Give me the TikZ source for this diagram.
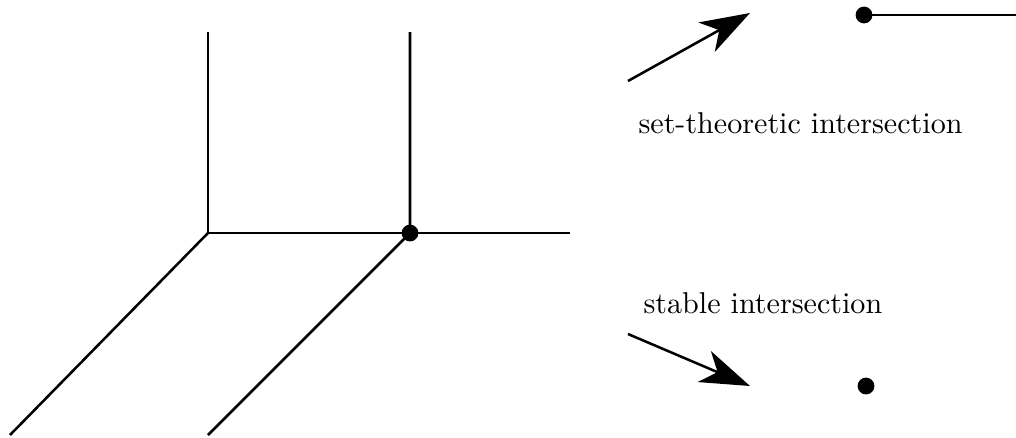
\documentclass[tikz,border=0pt]{standalone}
\usetikzlibrary{arrows.meta}

\tikzset{
  edge/.style={line width=0.9pt},
  pt/.style={circle,fill=black,inner sep=0pt,minimum size=2.1mm},
  bigarrow/.style={line width=0.9pt,-{Stealth[length=6.2mm,width=4.2mm,inset=1.8mm]}},
  lbl/.style={anchor=west,inner sep=0pt,font=\fontsize{10.7}{13}\selectfont}
}

\begin{document}
\begin{tikzpicture}[x=0.0125cm,y=-0.0125cm]
\useasboundingbox (0,0) rectangle (1016,437);

% two tropical lines
\coordinate (A) at (208,233);
\coordinate (Atop) at (208,32);
\coordinate (Aend) at (10,435);
\coordinate (Bright) at (570,233);
\coordinate (Btop) at (410,32);
\coordinate (Bend) at (208,435);
\node[pt] (B) at (410,233) {};

\draw[edge] (Atop) -- (A) -- (Bright);
\draw[edge] (A) -- (Aend);
\draw[edge] (Btop) -- (B.center) -- (Bend);

% set-theoretic intersection
\coordinate (s1) at (628,81);
\coordinate (s2) at (750,13);
\draw[bigarrow] (s1) -- (s2);
\node[lbl] (settxt) at (638,123) {set-theoretic intersection};
\node[pt] (P) at (864,15) {};
\coordinate (Pend) at (1016,15);
\draw[edge] (P.center) -- (Pend);

% stable intersection
\node[lbl] (stabtxt) at (643,303) {stable intersection};
\coordinate (t1) at (628,334);
\coordinate (t2) at (750,386);
\draw[bigarrow] (t1) -- (t2);
\node[pt] (Q) at (866,386) {};

\end{tikzpicture}
\end{document}
